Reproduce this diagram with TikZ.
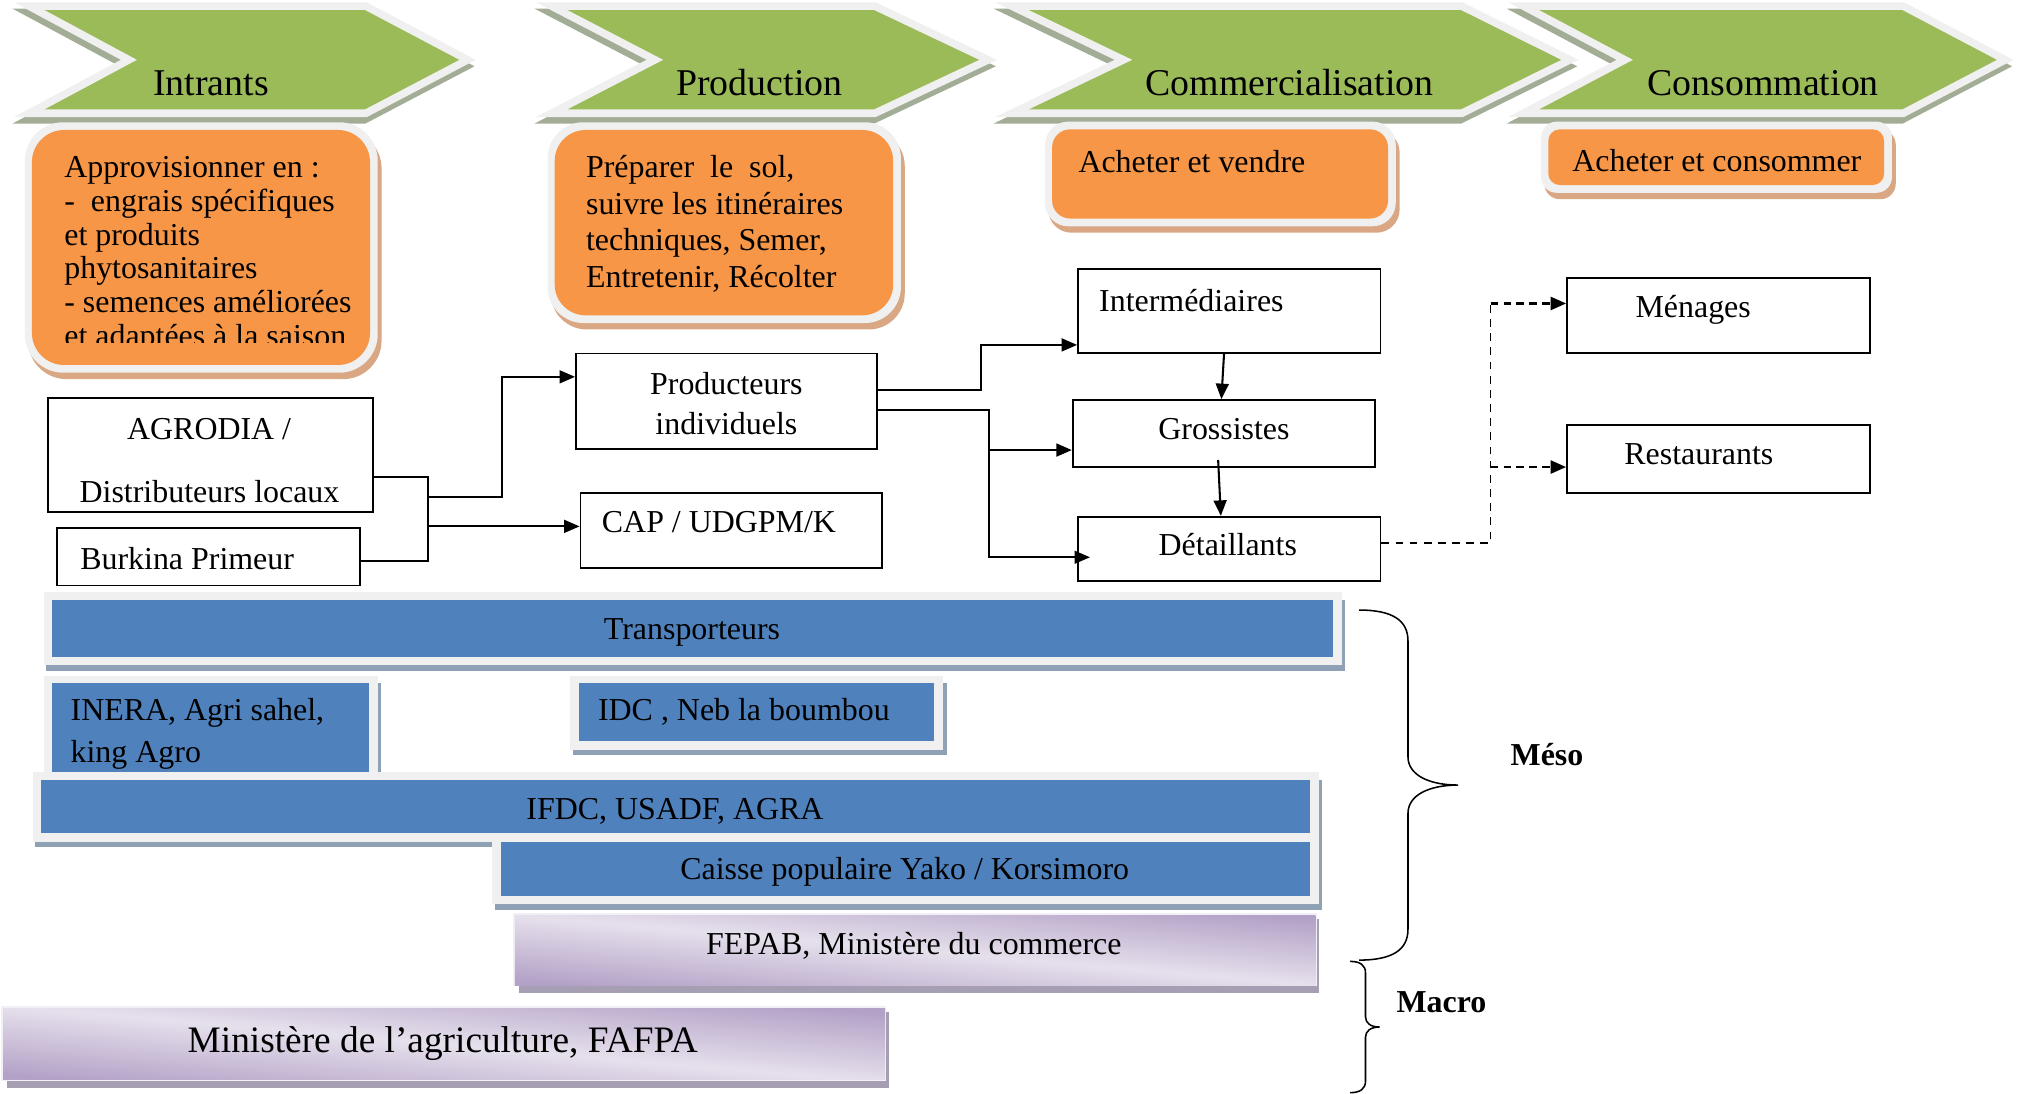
\documentclass[tikz,border=0pt]{standalone}
\usepackage{fontspec}
\setmainfont{Liberation Serif}
\usetikzlibrary{arrows.meta,fit}
\definecolor{chgreen}{HTML}{9BBB59}
\definecolor{chshadow}{HTML}{A3AD96}
\definecolor{halo}{HTML}{F0F0F0}
\definecolor{orng}{HTML}{F79646}
\definecolor{orshadow}{HTML}{D9A783}
\definecolor{barblue}{HTML}{4F81BD}
\definecolor{blshadow}{HTML}{8FA1B5}
\definecolor{purdark}{HTML}{B3A2C7}
\definecolor{purlight}{HTML}{E6E0EC}
\definecolor{purshadow}{HTML}{A69FB3}
\newcommand\bodyfont{\fontsize{12.4}{14}\selectfont}
\newcommand\titlefont{\fontsize{14.7}{17}\selectfont}
\newcommand\bigfont{\fontsize{14.5}{17}\selectfont}
\newcommand\chevronshape[4]{%
  \begin{scope}[shift={(-1,5)}]
    \draw[chshadow, fill=chshadow, line width=6pt, line join=miter] (#1,7.8) -- (#2,7.8) -- (#3,46.5) -- (#2,85) -- (#1,85) -- (#4,46.5) -- cycle;
  \end{scope}
  \draw[halo, line width=6pt, line join=miter] (#1,7.8) -- (#2,7.8) -- (#3,46.5) -- (#2,85) -- (#1,85) -- (#4,46.5) -- cycle;
  \fill[chgreen] (#1,7.8) -- (#2,7.8) -- (#3,46.5) -- (#2,85) -- (#1,85) -- (#4,46.5) -- cycle;
}
\newcommand\orangedeco[5]{%
  \fill[orshadow, rounded corners=#5] (#1-3,#2) rectangle (#3+9,#4+11);
  \fill[halo, rounded corners=#5] (#1-5.5,#2-6) rectangle (#3+6,#4+6);
}
\newcommand\bluedeco[4]{%
  \fill[blshadow] (#1-4.5,#2) rectangle (#3+9.5,#4+11);
  \fill[halo] (#1-6.5,#2-6) rectangle (#3+7,#4+6.5);
}
\newcommand\purpledeco[4]{%
  \fill[purshadow] (#1+3,#2+3) rectangle (#3+3,#4+6);
  \fill[purlight!50!white] (#1-1.5,#2-1.5) rectangle (#3+1,#4+1);
}
\tikzset{
  wbox/.style={draw=black, line width=0.7pt, fill=white, inner sep=0pt},
  colbox/.style={fill=#1, inner sep=0pt},
  purbox/.style={inner sep=0pt, top color=purdark, bottom color=purdark, middle color=purlight, shading angle=-5},
  txt/.style={inner sep=0pt, font=\bodyfont},
  ttl/.style={inner sep=0pt, font=\titlefont, anchor=base},
  conn/.style={line width=0.8pt},
  arr/.style={conn, -{Triangle[length=6pt,width=5pt]}},
  dthin/.style={line width=0.5pt, dash pattern=on 3pt off 2.5pt},
  darr/.style={line width=1pt, dash pattern=on 3pt off 2pt, -{Triangle[length=6pt,width=5pt]}},
  bracestyle/.style={line width=0.6pt},
}
\begin{document}
\begin{tikzpicture}[x=0.5pt,y=-0.5pt]
\useasboundingbox (0,0) rectangle (1568,850);

% ---------- chevrons
\chevronshape{34.7}{283.5}{356.8}{106.6}
\chevronshape{441}{679}{760.7}{515.5}
\chevronshape{799.5}{1135}{1213}{880}
\chevronshape{1196}{1478}{1551.5}{1269}
\node[ttl] (tintr) at (164,74) {Intrants};
\node[ttl] (tprod) at (590,74) {Production};
\node[ttl] (tcomm) at (1002,74) {Commercialisation};
\node[ttl] (tcons) at (1370,74) {Consommation};

% ---------- orange boxes
\orangedeco{24.8}{101}{287.5}{283.6}{15pt}
\node[colbox=orng, rounded corners=12.5pt, fit={(24.8,101) (287.5,283.6)}] (appro) {};
\begin{scope}
  \clip (20,95) rectangle (292,266);
  \node[txt, anchor=base west] (ap1) at (49.6,138) {Approvisionner en :};
  \node[txt, anchor=base west] (ap2) at (49.6,164.2) {-\ \ engrais spécifiques};
  \node[txt, anchor=base west] (ap3) at (49.6,190.4) {et produits};
  \node[txt, anchor=base west] (ap4) at (49.6,216.6) {phytosanitaires};
  \node[txt, anchor=base west] (ap5) at (49.6,242.8) {- semences améliorées};
  \node[txt, anchor=base west] (ap6) at (49.6,269) {et adaptées à la saison};
\end{scope}

\orangedeco{431}{101}{694}{245}{14pt}
\node[colbox=orng, rounded corners=12pt, fit={(431,101) (694,245)}] (prep) {};
\node[txt, anchor=base west] (pr1) at (455,138) {Préparer\ \ le\ \ sol,};
\node[txt, anchor=base west] (pr2) at (455,166.5) {suivre les itinéraires};
\node[txt, anchor=base west] (pr3) at (455,195) {techniques, Semer,};
\node[txt, anchor=base west] (pr4) at (455,223.5) {Entretenir, Récolter};

\orangedeco{817.5}{100.5}{1078.5}{169.8}{9pt}
\node[colbox=orng, rounded corners=7pt, fit={(817.5,100.5) (1078.5,169.8)}] (achv) {};
\node[txt, anchor=base west] (achvt) at (837.6,134.4) {Acheter et vendre};

\orangedeco{1203}{100.5}{1464}{143.8}{6pt}
\node[colbox=orng, rounded corners=4.5pt, fit={(1203,100.5) (1464,143.8)}] (achc) {};
\node[txt, anchor=base] (achct) at (1334,133) {Acheter et consommer};

% ---------- white boxes
\node[wbox, fit={(37,309) (290,398)}] (agrodia) {};
\node[txt, anchor=base] (ag1) at (162.5,341.4) {AGRODIA /};
\node[txt, anchor=base] (ag2) at (162.8,390.6) {Distributeurs locaux};
\node[wbox, fit={(44.6,410) (280,455)}] (burkina) {};
\node[txt, anchor=base west] (bkt) at (62,442.4) {Burkina Primeur};
\node[wbox, fit={(447.5,274.6) (681.5,349)}] (prod) {};
\node[txt, anchor=base] (pd1) at (564.4,306.4) {Producteurs};
\node[txt, anchor=base] (pd2) at (564.4,337.5) {individuels};
\node[wbox, fit={(451,383) (685.5,441.5)}] (cap) {};
\node[txt, anchor=base west] (capt) at (467.3,413.8) {CAP / UDGPM/K};
\node[wbox, fit={(837.6,209) (1072.6,274)}] (inter) {};
\node[txt, anchor=base west] (intt) at (853.7,241.7) {Intermédiaires};
\node[wbox, fit={(833.5,310.8) (1068.5,363)}] (gros) {};
\node[txt, anchor=base] (grt) at (951,341.4) {Grossistes};
\node[wbox, fit={(837.6,401.5) (1072.6,451.5)}] (detail) {};
\node[txt, anchor=base] (dtt) at (954,432) {Détaillants};
\node[wbox, fit={(1217.6,216) (1453,274)}] (menages) {};
\node[txt, anchor=base] (mnt) at (1315.6,246.8) {Ménages};
\node[wbox, fit={(1217.6,330) (1453,383)}] (resto) {};
\node[txt, anchor=base] (rst) at (1320,360.8) {Restaurants};

% ---------- connectors
\draw[conn] ([yshift=-8.45pt]agrodia.east) -- ++(21pt,0) coordinate (j1) |- ([yshift=-1.75pt]burkina.east);
\coordinate (j2) at ([yshift=-7.8pt]j1);
\coordinate (j3) at ([yshift=-19.3pt]j1);
\draw[arr] (j2) -- ++(28.5pt,0) |- ([yshift=9.5pt]prod.west);
\draw[arr] (j3) -- (cap.west |- j3);
\draw[arr] ([yshift=4.4pt]prod.east) -- ++(40pt,0) |- ([yshift=-13.25pt]inter.west);
\draw[arr] ([yshift=-3.4pt]prod.east) -- ++(43.25pt,0) coordinate (j4) |- ([xshift=5pt,yshift=-3.25pt]detail.west);
\coordinate (g1) at ([yshift=-6.4pt]gros.west);
\draw[arr] (g1 -| j4) -- (g1);
\draw[arr] ([xshift=-2pt]inter.south) -- ([xshift=-1pt]gros.north);
\draw[arr] ([xshift=-2.25pt,yshift=3.15pt]gros.south) -- ([xshift=-3.25pt]detail.north);
\coordinate (m1) at ([yshift=4.6pt]menages.west);
\coordinate (r1) at ([yshift=-3.2pt]resto.west);
\draw[dthin] ([yshift=2.25pt]detail.east) -- ++(42.5pt,0) coordinate (j5) -- (j5 |- m1);
\draw[darr] (j5 |- m1) -- (m1);
\draw[darr] (j5 |- r1) -- (r1);

% ---------- blue bars
\bluedeco{40.5}{466}{1035.5}{510.5}
\node[colbox=barblue, fit={(40.5,466) (1035.5,510.5)}] (transp) {};
\node[txt, anchor=base] (trt) at (537.7,496.8) {Transporteurs};

\bluedeco{40.5}{531}{286.4}{606}
\node[colbox=barblue, fit={(40.5,531) (286.4,606)}] (inera) {};
\node[txt, anchor=base west] (in1) at (54.5,560.2) {INERA, Agri sahel,};
\node[txt, anchor=base west] (in2) at (54.5,592.6) {king Agro};

\bluedeco{449.5}{531}{726}{576}
\node[colbox=barblue, fit={(449.5,531) (726,576)}] (idc) {};
\node[txt, anchor=base west] (idct) at (464.3,560.2) {IDC , Neb la boumbou};

\bluedeco{32}{606}{1018}{647.5}
\node[colbox=barblue, fit={(32,606) (1018,647.5)}] (ifdc) {};
\node[txt, anchor=base] (ift) at (524.5,636.6) {IFDC, USADF, AGRA};

\bluedeco{389}{654}{1018}{696}
\node[colbox=barblue, fit={(389,654) (1018,696)}] (caisse) {};
\node[txt, anchor=base] (cst) at (703,683.3) {Caisse populaire Yako / Korsimoro};

% ---------- purple bars
\purpledeco{400}{711}{1022}{765.5}
\node[purbox, fit={(400,711) (1022,765.5)}] (fepab) {};
\node[txt, anchor=base] (fpt) at (710,741.5) {FEPAB, Ministère du commerce};

\purpledeco{2.5}{783.5}{687.7}{839}
\node[purbox, fit={(2.5,783.5) (687.7,839)}] (minagri) {};
\node[txt, font=\bigfont, anchor=base] (mat) at (344,818) {Ministère de l’agriculture, FAFPA};

% ---------- braces
\draw[bracestyle] (1056,474) .. controls (1082,474) and (1094,482) .. (1094,498) -- (1094,588)
  .. controls (1094,602) and (1110,610) .. (1133,610)
  .. controls (1110,610) and (1094,618) .. (1094,632) -- (1094,722)
  .. controls (1094,738) and (1082,746) .. (1056,746);
\draw[bracestyle] (1049,747) .. controls (1057,747) and (1061,750) .. (1061,756) -- (1061,790)
  .. controls (1061,795) and (1065,798) .. (1072,798)
  .. controls (1065,798) and (1061,801) .. (1061,806) -- (1061,840)
  .. controls (1061,846) and (1057,849) .. (1049,849);
\node[txt, font=\bodyfont\bfseries, anchor=base] (meso) at (1202,595) {Méso};
\node[txt, font=\bodyfont\bfseries, anchor=base] (macro) at (1120,786.5) {Macro};
\end{tikzpicture}
\end{document}
